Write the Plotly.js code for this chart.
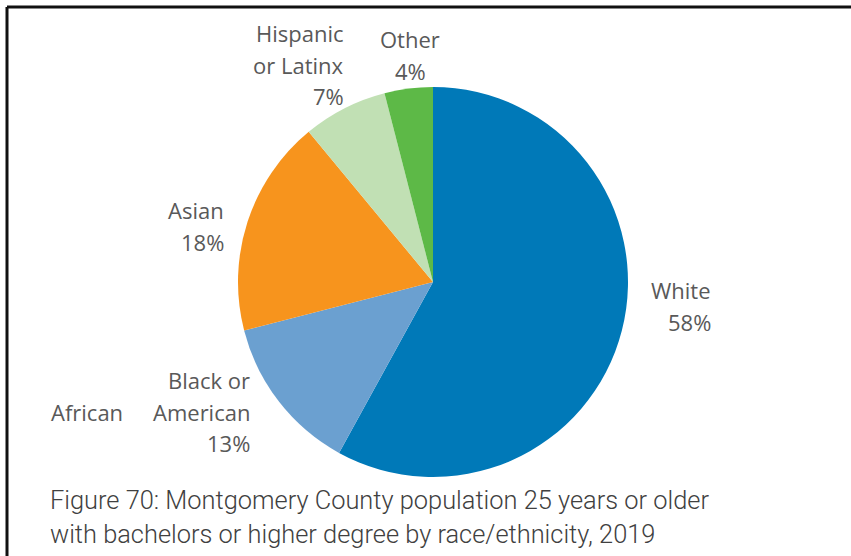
<!DOCTYPE html>
<html>
<head>
<meta charset="utf-8">
<script src="https://cdn.plot.ly/plotly-3.0.1.min.js"></script>
<style>html,body{margin:0;padding:0;background:#fff;}#chart{width:851px;height:556px;}</style>
</head>
<body>
<div id="chart"></div>
<script>
const categories = ["White", "Black or African American", "Asian", "Hispanic or Latinx", "Other"];
const values = [58, 13, 18, 7, 4];
const colors = ["#0079B8", "#6BA0D0", "#F7941D", "#C1E0B4", "#5DB947"];
const labelLines = [["White"], ["Black or", "American"], ["Asian"], ["Hispanic", "or Latinx"], ["Other"]];
const captionLines = ["Figure 70: Montgomery County population 25 years or older",
                      "with bachelors or higher degree by race/ethnicity, 2019"];

const W = 851, H = 556;
const px = x => x / W;
const py = y => 1 - y / H;

// label anchor positions (pixels) - layout only
const labelPos = [
  {x: 713, y: 290, align: "right", xanchor: "right"},
  {x: 252, y: 380, align: "right", xanchor: "right"},
  {x: 226, y: 210, align: "right", xanchor: "right"},
  {x: 346, y: 33, align: "right", xanchor: "right"},
  {x: 410, y: 39, align: "center", xanchor: "center"}
];
const lineH = 31.5;
const labelFont = {family: "Open Sans", size: 22, color: "#595959"};

const annotations = [];
categories.forEach((c, i) => {
  const lines = labelLines[i].concat([values[i] + "%"]);
  const p = labelPos[i];
  lines.forEach((t, j) => {
    annotations.push({
      xref: "paper", yref: "paper", x: px(p.x), y: py(p.y + j * lineH),
      text: t, showarrow: false, xanchor: p.xanchor, yanchor: "middle",
      font: labelFont
    });
  });
});
// stray word from the wrapped label
annotations.push({
  xref: "paper", yref: "paper", x: px(49), y: py(380 + lineH),
  text: "African", showarrow: false, xanchor: "left", yanchor: "middle", font: labelFont
});
captionLines.forEach((t, j) => {
  annotations.push({
    xref: "paper", yref: "paper", x: px(48), y: py(500 + j * 34),
    text: t, showarrow: false, xanchor: "left", yanchor: "middle",
    font: {family: "Roboto", size: 25.4, color: "#404040", weight: 300}
  });
});

const data = [{
  type: "pie",
  labels: categories,
  values: values,
  marker: {colors: colors, line: {width: 0}},
  sort: false,
  direction: "clockwise",
  rotation: 0,
  textinfo: "none",
  hoverinfo: "label+percent",
  domain: {x: [px(238), px(628)], y: [py(477), py(87)]}
}];

const layout = {
  width: W, height: H,
  margin: {l: 0, r: 0, t: 0, b: 0},
  paper_bgcolor: "#fff",
  showlegend: false,
  annotations: annotations,
  shapes: [
    {type: "line", xref: "paper", yref: "paper", x0: px(7), x1: 1, y0: py(7), y1: py(7), line: {color: "#111", width: 3}},
    {type: "line", xref: "paper", yref: "paper", x0: px(7), x1: px(7), y0: py(7), y1: 0, line: {color: "#111", width: 3}}
  ]
};

Plotly.newPlot("chart", data, layout, {displayModeBar: false, staticPlot: true});
</script>
</body>
</html>
